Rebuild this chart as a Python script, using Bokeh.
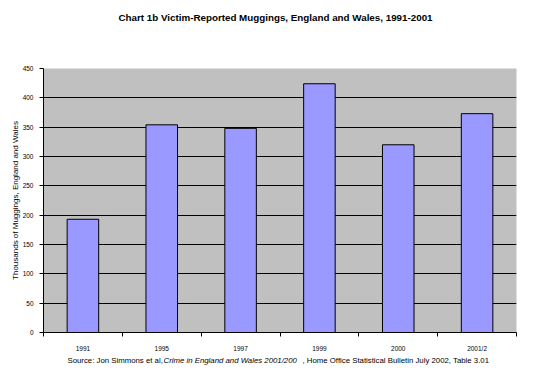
from bokeh.plotting import figure
from bokeh.models import Range1d, FixedTicker, ColumnDataSource
from bokeh.layouts import column
from bokeh.core.properties import value
from bokeh.embed import file_html
from bokeh.resources import INLINE

# Data
categories = ["1991", "1995", "1997", "1999", "2000", "2001/2"]
muggings = [193, 354, 348, 424, 320, 373]
y_ticks = [0, 50, 100, 150, 200, 250, 300, 350, 400, 450]

title_text = "Chart 1b Victim-Reported Muggings, England and Wales, 1991-2001"
y_label = "Thousands of Muggings, England and Wales"
source_parts = ["Source: Jon Simmons et al, ",
                "Crime in England and Wales  2001/200",
                ", Home Office Statistical Bulletin July 2002, Table 3.01"]
source_styles = ["normal", "italic", "normal"]

FONT = "Liberation Sans"
W = 550
FRAME_L, FRAME_R = 43, 516   # column aligns the frames of all strips


def text_strip(height):
    f = figure(width=W, height=height, output_backend="svg",
               toolbar_location=None,
               x_range=Range1d(FRAME_L, FRAME_R), y_range=Range1d(height, 0),
               x_axis_type=None, y_axis_type=None,
               min_border_left=0, min_border_right=0,
               min_border_top=0, min_border_bottom=0)
    f.outline_line_color = None
    f.background_fill_color = "white"
    f.border_fill_color = "white"
    f.grid.visible = False
    return f


# --- Title strip ---
TITLE_H = 34
pt = text_strip(TITLE_H)
pt.text(x=[275], y=[17], text=[title_text], text_font=value(FONT),
        text_font_size="9.8px", text_font_style="bold",
        text_align="center", text_baseline="middle", text_color="black")

# --- Main chart ---
n = len(categories)
xs = [i + 0.5 for i in range(n)]

p = figure(width=W, height=320, output_backend="svg", toolbar_location=None,
           x_range=Range1d(0, n), y_range=Range1d(0, 450),
           min_border_left=FRAME_L, min_border_right=W - FRAME_R,
           min_border_top=34, min_border_bottom=20)

p.background_fill_color = "#C0C0C0"
p.border_fill_color = "white"
p.outline_line_color = None

p.vbar(x=xs, top=muggings, width=0.4, fill_color="#9999FF",
       line_color="black", line_width=1)

# Grid
p.xgrid.grid_line_color = None
p.ygrid.grid_line_color = "black"
p.ygrid.grid_line_width = 1
p.ygrid.ticker = FixedTicker(ticks=y_ticks)

# Y axis
p.yaxis.ticker = FixedTicker(ticks=y_ticks)
p.yaxis.axis_line_color = "black"
p.yaxis.major_tick_out = 4
p.yaxis.major_tick_in = 0
p.yaxis.minor_tick_line_color = None
p.yaxis.major_label_text_font = FONT
p.yaxis.major_label_text_font_size = "6.5px"
p.yaxis.major_label_text_color = "black"
p.yaxis.major_label_standoff = 6
p.yaxis.axis_label = y_label
p.yaxis.axis_label_text_font = FONT
p.yaxis.axis_label_text_font_size = "8px"
p.yaxis.axis_label_text_font_style = "normal"
p.yaxis.axis_label_text_color = "black"
p.yaxis.axis_label_standoff = 0

# X axis: labels at centres, ticks at category boundaries
p.xaxis.ticker = FixedTicker(ticks=xs, minor_ticks=list(range(n + 1)))
p.xaxis.major_label_overrides = {x: c for x, c in zip(xs, categories)}
p.xaxis.axis_line_color = "black"
p.xaxis.major_tick_out = 0
p.xaxis.major_tick_in = 0
p.xaxis.minor_tick_out = 4
p.xaxis.minor_tick_in = 0
p.xaxis.minor_tick_line_color = "black"
p.xaxis.major_label_text_font = FONT
p.xaxis.major_label_text_font_size = "6.5px"
p.xaxis.major_label_text_color = "black"
p.xaxis.major_label_standoff = 8

# --- Source strip ---
SRC_H = 25
src_x = [67, 163, 302]
src_y = [6, 6, 6]
ps = text_strip(SRC_H)
src = ColumnDataSource(dict(x=src_x, y=src_y, text=source_parts,
                            style=source_styles))
ps.text(x="x", y="y", text="text", source=src, text_font=value(FONT),
        text_font_size="7.8px", text_font_style="style",
        text_align="left", text_baseline="middle", text_color="black")

layout = column(pt, p, ps, spacing=0)
open("out.html", "w").write(file_html(layout, INLINE))
